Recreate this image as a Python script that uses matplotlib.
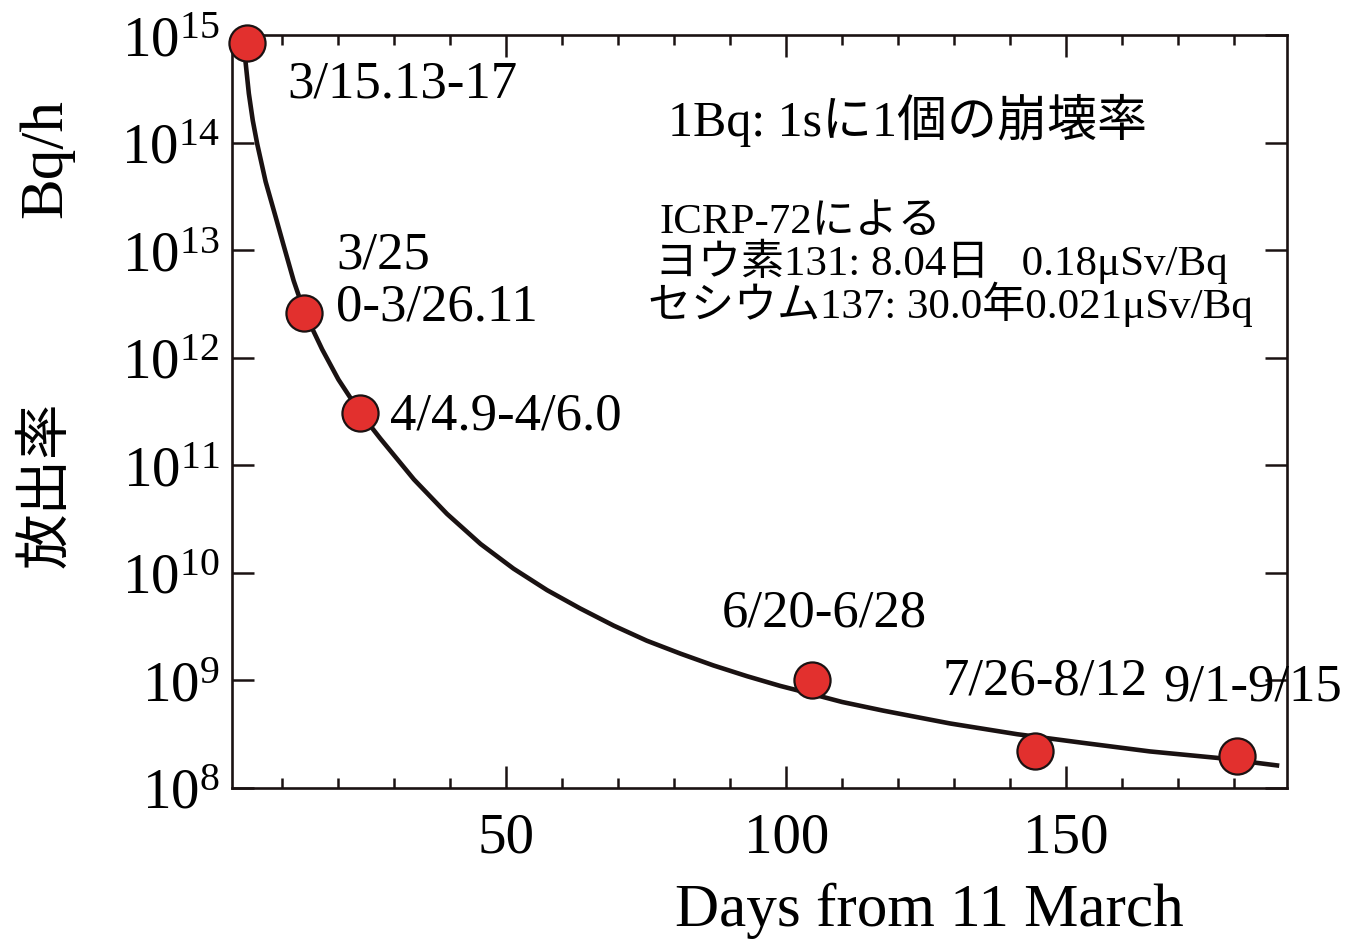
import numpy as np
import matplotlib.pyplot as plt
from matplotlib.ticker import FixedLocator, NullLocator, LogFormatterMathtext

plt.rcParams['font.family'] = ['Liberation Serif', 'Noto Sans CJK JP']
plt.rcParams['mathtext.fontset'] = 'stix'

# measured release rates (Bq/h)
periods = ['3/15.13-17', '3/25\n0-3/26.11', '4/4.9-4/6.0', '6/20-6/28', '7/26-8/12', '9/1-9/15']
days = [3.75, 13.9, 23.9, 104.6, 144.5, 180.5]
rates = [8.5e14, 2.6e12, 3.1e11, 1.0e9, 2.2e8, 2.0e8]

# fitted curve (log10 of Bq/h)
curve_days = [3.4, 4.0, 4.7, 5.5, 7.0, 8.8, 10.2, 12.0, 13.9, 17.1, 20.0, 23.9, 27.5, 33.5, 39.4,
              45.4, 51.3, 57.3, 63.2, 69.2, 75.1, 81.1, 87.0, 93.0, 98.9, 104.9, 110.0,
              117.3, 129.3, 141.3, 153.0, 165.0, 177.0, 187.7]
curve_log = [14.76, 14.46, 14.21, 13.99, 13.64, 13.31, 13.05, 12.72, 12.43, 12.08, 11.80, 11.49, 11.25,
             10.87, 10.55, 10.27, 10.04, 9.84, 9.67, 9.51, 9.37, 9.25, 9.14, 9.04, 8.95, 8.87,
             8.80, 8.72, 8.60, 8.50, 8.42, 8.34, 8.28, 8.21]

yticks = [1e8, 1e9, 1e10, 1e11, 1e12, 1e13, 1e14, 1e15]
xticks = [50, 100, 150]
xminor = [10, 20, 30, 40, 60, 70, 80, 90, 110, 120, 130, 140, 160, 170, 180]

# label offsets from each point (points)
label_offsets = [(28.8, -38.5), (23, -4.3), (21.6, -11.5), (-64.8, 39.6), (-67, 41.8), (-52.6, 40.3)]

fig = plt.figure(figsize=(13.46, 9.45), dpi=100)
ax = fig.add_axes([0.1724, 0.1651, 0.7838, 0.7963])
ax.set_yscale('log')

ax.plot(curve_days, 10 ** np.array(curve_log), color='#1a1212', lw=3.3, zorder=3)
ax.plot(days, rates, 'o', ms=26, mfc='#e2302e', mec='#1a1212', mew=1.6, zorder=4, clip_on=False)

for lab, x, y, off in zip(periods, days, rates, label_offsets):
    ax.annotate(lab, (x, y), xytext=off, textcoords='offset points',
                ha='left', va='baseline', fontsize=38, linespacing=1.1, zorder=5)

ax.set_xlim(1, 189.5)
ax.set_ylim(1e8, 1e15)
ax.set_xticks(xticks)
ax.xaxis.set_minor_locator(FixedLocator(xminor))
ax.set_yticks(yticks)
ax.yaxis.set_major_formatter(LogFormatterMathtext())
ax.yaxis.set_minor_locator(NullLocator())

ax.tick_params(which='both', direction='in', top=True, right=True, width=1.8, color='#1a1212')
ax.tick_params(which='major', length=16)
ax.tick_params(which='minor', length=7.5)
ax.tick_params(axis='x', labelsize=41, pad=17)
ax.tick_params(axis='y', labelsize=41, pad=9)
for s in ax.spines.values():
    s.set_linewidth(1.9)
    s.set_color('#1a1212')

fig.text(0.5015, 0.02, 'Days from 11 March', fontsize=44, va='baseline', ha='left')
fig.text(0.0349, 0.8317, 'Bq/h', fontsize=44, rotation=90, ha='center', va='center')
fig.text(0.0349, 0.4868, '放出率', fontsize=40, rotation=90, ha='center', va='center')

fig.text(0.4963, 0.856, '1Bq: 1sに1個の崩壊率', fontsize=36, va='baseline')
fig.text(0.4903, 0.7534, 'ICRP-72による', fontsize=31, va='baseline')
fig.text(0.4866, 0.709, 'ヨウ素131: 8.04日   0.18μSv/Bq', fontsize=31, va='baseline')
fig.text(0.4814, 0.6635, 'セシウム137: 30.0年0.021μSv/Bq', fontsize=31, va='baseline')

fig.savefig('out.png', dpi=100)
